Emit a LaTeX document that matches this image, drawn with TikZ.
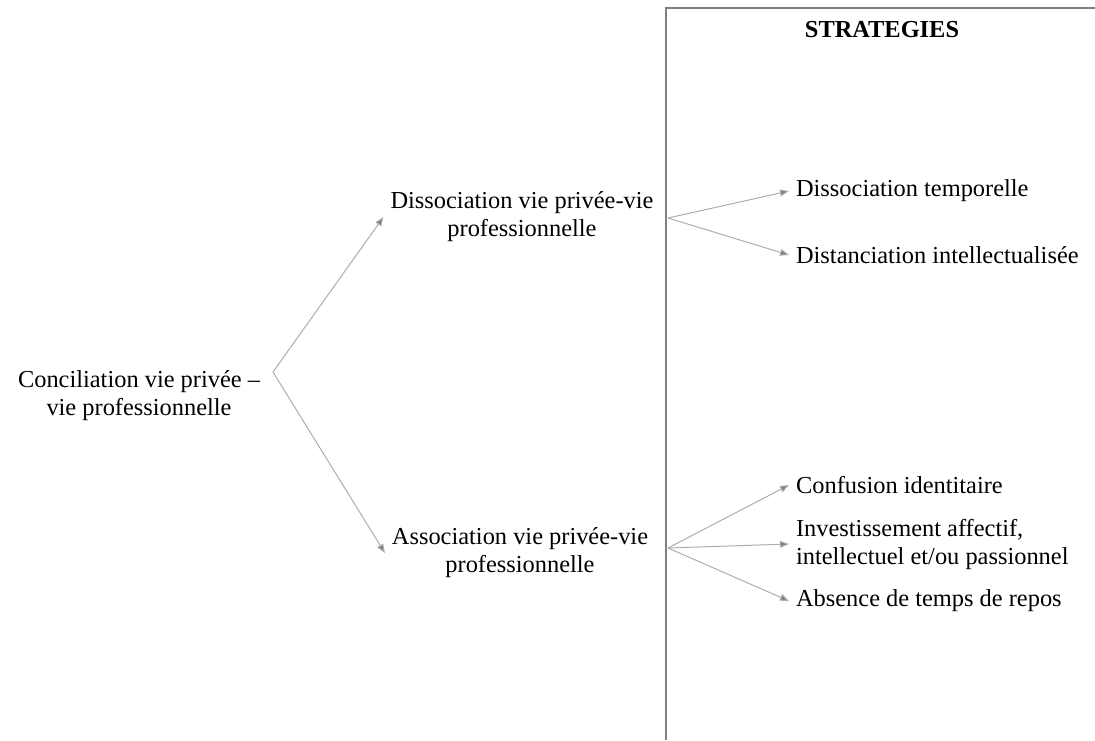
\documentclass[tikz,border=0pt]{standalone}
\usepackage{fontspec}
\setmainfont{Liberation Serif}
\usetikzlibrary{positioning, arrows.meta}

\begin{document}
\begin{tikzpicture}[
    x=0.5pt, y=-0.5pt,
    font=\fontsize{12.2}{14}\selectfont,
    concept/.style={align=center},
    strat/.style={anchor=west, align=left},
    head/.style={font=\fontsize{12.2}{14}\selectfont\bfseries},
    arrow/.style={-{Triangle[length=4.5pt, width=3.4pt, fill=black!50]}, draw=black!32, line width=0.5pt},
    frame/.style={draw=black!50, line width=0.7pt},
]
\useasboundingbox (0,0) rectangle (1095,740);

% --- strategies frame ---
\draw[frame] (666,740) -- (666,8) -- (1095,8);
\node[head] (title) at (882,30) {STRATEGIES};

% --- main concepts ---
\node[concept] (conc) at (139,396) {Conciliation vie privée --\\vie professionnelle};
\node[concept] (dissoc) at (522,217) {Dissociation vie privée-vie\\professionnelle};
\node[concept] (assoc) at (520,553) {Association vie privée-vie\\professionnelle};

% --- strategies ---
\node[strat] (s1) at (789,191) {Dissociation temporelle};
\node[strat] (s2) at (789,255) {Distanciation intellectualisée};
\node[strat] (s3) at (789,485) {Confusion identitaire};
\node[strat] (s4) at (789,544) {Investissement affectif,\\intellectuel et/ou passionnel};
\node[strat] (s5) at (789,601) {Absence de temps de repos};

% --- forks ---
\coordinate (f0) at (273,372);
\coordinate (f1) at (668,218);
\coordinate (f2) at (668,548);

\draw[arrow] (f0) -- (dissoc.west);
\draw[arrow] (f0) -- (assoc.west);
\draw[arrow] (f1) -- (s1.west);
\draw[arrow] (f1) -- (s2.west);
\draw[arrow] (f2) -- (s3.west);
\draw[arrow] (f2) -- (s4.west);
\draw[arrow] (f2) -- (s5.west);

\end{tikzpicture}
\end{document}
